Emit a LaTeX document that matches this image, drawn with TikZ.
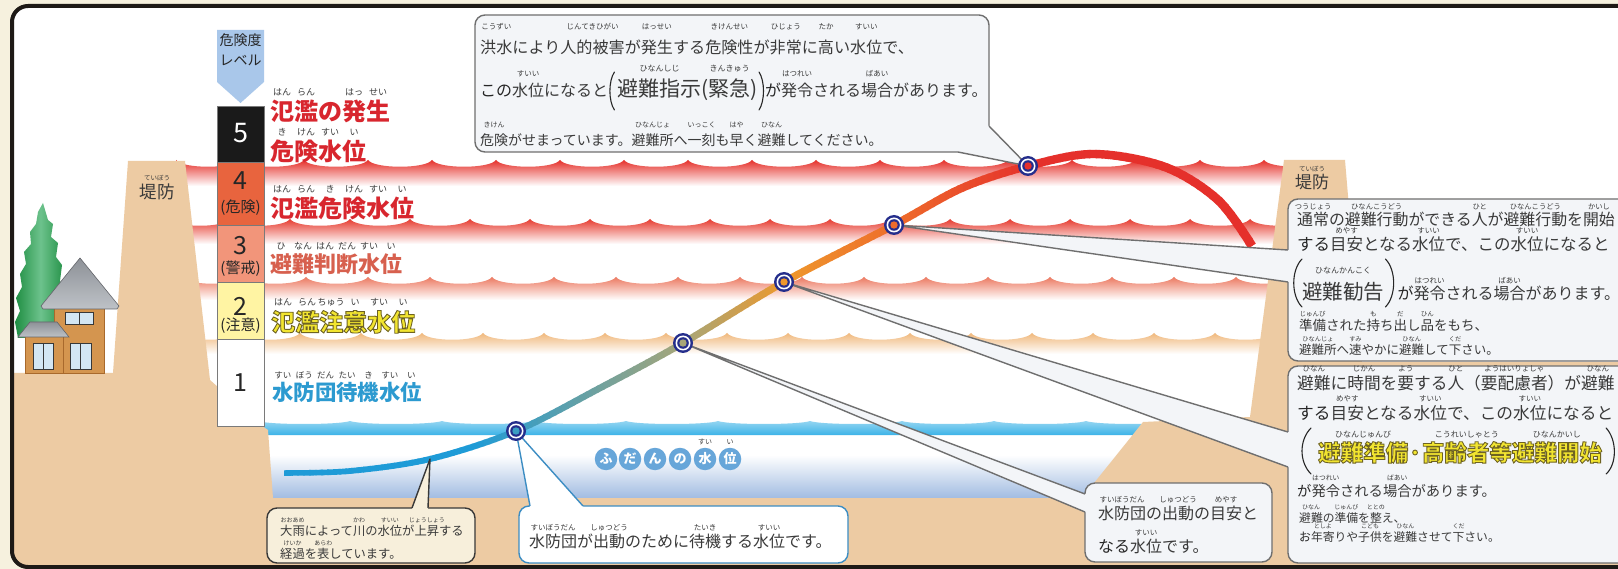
\documentclass[tikz,border=0pt]{standalone}
\usepackage{fontspec}
\setmainfont{Noto Sans CJK JP}
\newfontfamily\jp{Noto Sans CJK JP}
\usetikzlibrary{calc}

\definecolor{bgcream}{HTML}{F6F1DE}
\definecolor{framecol}{HTML}{1E1A16}
\definecolor{tan}{HTML}{EDCBA3}
\definecolor{bandA}{HTML}{E5302A}
\definecolor{bandB}{HTML}{E63C30}
\definecolor{bandC}{HTML}{EC7A62}
\definecolor{bandD}{HTML}{F0B87C}
\definecolor{waterband}{HTML}{3CB3E7}
\definecolor{waterdeep}{HTML}{9DB9E0}
\definecolor{lv5}{HTML}{1A1A1A}
\definecolor{lv4}{HTML}{E8643E}
\definecolor{lv3}{HTML}{F2957A}
\definecolor{lv2}{HTML}{FFF4A3}
\definecolor{lvarrow}{HTML}{A9C7EA}
\definecolor{lvline}{HTML}{7A7A7A}
\definecolor{lred}{HTML}{D8262E}
\definecolor{lsalmon}{HTML}{D7604E}
\definecolor{lyellow}{HTML}{F2E530}
\definecolor{lblue}{HTML}{2C9AD0}
\definecolor{navy}{HTML}{252E8C}
\definecolor{boxfill}{HTML}{F3F5F8}
\definecolor{boxline}{HTML}{6F6F6F}
\definecolor{creambox}{HTML}{F7EFDB}
\definecolor{darkline}{HTML}{383838}
\definecolor{blueline}{HTML}{3C8DC3}
\definecolor{txtcol}{HTML}{262626}
\definecolor{rubycol}{HTML}{3A3A3A}
\definecolor{alertred}{HTML}{E1432F}
\definecolor{wall}{HTML}{D4954F}
\definecolor{walldark}{HTML}{A8692C}
\definecolor{roofA}{HTML}{8D9197}
\definecolor{roofB}{HTML}{BEC2C7}
\definecolor{win}{HTML}{D3E6F3}
\definecolor{treeA}{HTML}{1E8E42}
\definecolor{treeB}{HTML}{6DC28C}
\definecolor{circ}{HTML}{67A6D9}
% colour stops of the water-level curve
\definecolor{c0}{HTML}{1E9BD7}
\definecolor{c1}{HTML}{A8A677}
\definecolor{c2}{HTML}{EE982C}
\definecolor{c3}{HTML}{EE6C2B}
\definecolor{c4}{HTML}{E5302B}

\newcommand\curvecolor[1]{%
 \ifdim#1pt<470pt \colorlet{cc}{c0}%
 \else\ifdim#1pt<683pt \pgfmathsetmacro\pp{(683-#1)/2.13}\colorlet{cc}{c0!\pp!c1}%
 \else\ifdim#1pt<784pt \pgfmathsetmacro\pp{(784-#1)/1.01}\colorlet{cc}{c1!\pp!c2}%
 \else\ifdim#1pt<894pt \pgfmathsetmacro\pp{(894-#1)/1.10}\colorlet{cc}{c2!\pp!c3}%
 \else\ifdim#1pt<1028pt \pgfmathsetmacro\pp{(1028-#1)/1.34}\colorlet{cc}{c3!\pp!c4}%
 \else \colorlet{cc}{c4}\fi\fi\fi\fi\fi}

% ruby (furigana) over a base text, base width kept
\newcommand\rbsz{7}
\newcommand\rbup{1.05em}
\newcommand\rb[2]{\leavevmode\setbox0=\hbox{#1}\setbox1=\hbox{\jp\mdseries\fontsize{\rbsz}{\rbsz}\selectfont\color{rubycol}#2}\hbox to\wd0{\rlap{\raise\rbup\hbox to\wd0{\hss\box1\hss}}\box0}}
\newcommand\fs[2]{\fontsize{#1}{#1}\selectfont\def\rbsz{#2}}
% heavy label letters, optionally outlined in a darker stroke
\newcommand\fc{lred}
\def\strokergb{}
\newcommand\lab[1]{{\color{\fc}\ifx\strokergb\empty#1\else\special{pdf:literal direct 2 Tr 0.9 w \strokergb\space RG}#1\special{pdf:literal direct 0 Tr}\fi}}
\newcommand\lr[2]{\rb{\lab{#1}}{#2}}

% scalloped band with colour fading downwards
\newcommand\band[6]{%
 \shade[top color=#1, middle color=#1!75!white, bottom color=white]
 (#4,#2+#3) -- (#4,#2)
 \foreach \k in {1,...,#5}{ .. controls ({#4+(\k-1)*#6+0.1*#6},{#2+9}) and ({#4+\k*#6-0.1*#6},{#2+9}) .. ({#4+\k*#6},#2) }
 -- ({#4+#5*#6},#2+#3) -- cycle;}

\def\curvepath{plot[smooth,tension=0.55] coordinates {(284,473) (350,471) (430,459) (516,431) (600,388) (683,343) (784,282) (894,225) (962,188) (1028,166) (1094,154) (1165,167) (1218,200) (1252,246)}}

\begin{document}
\begin{tikzpicture}[x=1pt,y=-1pt,
  txt/.style={inner sep=0pt, anchor=base west, text=txtcol},
  ctr/.style={inner sep=0pt, text=txtcol},
  lbl/.style={inner sep=0pt, anchor=base west},
  callbox/.style={fill=boxfill, draw=boxline, line width=1.4pt, rounded corners=10pt},
  callline/.style={draw=boxline, line width=1.4pt, line join=round},
  paren/.style={draw=txtcol, line width=1.1pt, line cap=round},
  lvbox/.style={draw=lvline, line width=0.8pt},
  fudan/.style={circle, fill=circ, text=white, minimum size=22.5pt, inner sep=0pt, font=\bfseries\fontsize{13}{13}\selectfont},
]
\useasboundingbox (0,0) rectangle (1618,569);
\clip (0,0) rectangle (1618,569);
\fill[bgcream] (0,0) rectangle (1618,569);
\fill[white, rounded corners=16pt] (12,6) rectangle (1700,567);

\begin{scope}
\clip[rounded corners=16pt] (12,6) rectangle (1700,567);

% danger bands
\band{bandA}{160}{26}{176}{18}{64}
\band{bandB}{219}{25}{170}{19}{60}
\band{bandC}{277}{23}{182}{18}{62}
\band{bandD}{333}{21}{178}{19}{61}

% river water
\shade[top color=white, bottom color=waterdeep] (255,455) rectangle (1160,500);
\shade[top color=waterband!55!white, bottom color=waterband] (258,435) -- (258,421)
 \foreach \k in {1,...,10}{ .. controls ({258+(\k-1)*92+11},{425}) and ({258+\k*92-11},{425}) .. ({258+\k*92},421) } -- (1178,435) -- cycle;

% ground and levees
\fill[tan] (1082,498) -- (1143,422) -- (1250,417) -- (1284,160) -- (1345,160) -- (1362,362) -- (1700,362) -- (1700,600) -- (0,600) -- (0,373) -- (113,373) -- (128,161) -- (185,161) -- (210,380) -- (262,426) -- (268,430) -- (273,498) -- cycle;

% tree
\shade[left color=treeA, right color=treeA, middle color=treeB] (43,203) -- (48,220) -- (53,224) -- (51,237) -- (58,243) -- (56,257) -- (62,265) -- (60,281) -- (65,291) -- (63,309) -- (66,320) -- (64,338) -- (18,338) -- (15,322) -- (20,311) -- (16,298) -- (22,287) -- (20,274) -- (26,264) -- (24,252) -- (31,244) -- (30,232) -- (36,224) -- (38,212) -- cycle;
% house
\fill[wall, draw=walldark, line width=0.6pt] (54,305) rectangle (104,373);
\shade[top color=roofA, bottom color=roofB, draw=roofA!70!black, line width=0.6pt] (80,258) -- (119,306) -- (117,309) -- (43,309) -- (41,306) -- cycle;
\fill[win, draw=darkline, line width=1pt] (65,313) rectangle (93,325);
\draw[darkline, line width=1pt] (79,313) -- (79,325);
\fill[wall, draw=walldark, line width=0.6pt] (25,336) rectangle (63,373);
\shade[top color=roofA, bottom color=roofB, draw=roofA!70!black, line width=0.6pt] (30,322) -- (57,322) -- (69,337) -- (18,337) -- cycle;
\fill[win, draw=darkline, line width=1pt] (33,344) rectangle (53,370);
\draw[darkline, line width=1pt] (43,344) -- (43,370);
\fill[win, draw=darkline, line width=1pt] (70,344) rectangle (91,370);
\draw[darkline, line width=1pt] (80.5,344) -- (80.5,370);

% levee labels
\node[ctr, font=\fs{17.5}{6.5}, anchor=base] (leveeL) at (157,199) {\rb{堤防}{ていぼう}};
\node[ctr, font=\fs{17}{6.5}, anchor=base] (leveeR) at (1312,189) {\rb{堤防}{ていぼう}};

% danger level column
\fill[lvarrow] (217,30) -- (264,30) -- (264,82) -- (240.5,103) -- (217,82) -- cycle;
\node[ctr, font=\fs{14}{6}] (lvt1) at (240.5,40) {危険度};
\node[ctr, font=\fs{14}{6}] (lvt2) at (240.5,60) {レベル};
\filldraw[lvbox, fill=lv5] (217,106) rectangle (264,162);
\filldraw[lvbox, fill=lv4] (217,162) rectangle (264,225);
\filldraw[lvbox, fill=lv3] (217,225) rectangle (264,282);
\filldraw[lvbox, fill=lv2] (217,282) rectangle (264,339);
\filldraw[lvbox, fill=white] (217,339) rectangle (264,426);
\node[ctr, text=white, font=\fs{27}{6}] (n5) at (240.5,133) {5};
\node[ctr, font=\fs{25}{6}] (n4) at (240.5,181) {4};
\node[ctr, font=\fs{15}{6}] (n4b) at (240.5,208) {(危険)};
\node[ctr, font=\fs{25}{6}] (n3) at (240.5,246) {3};
\node[ctr, font=\fs{15}{6}] (n3b) at (240.5,269) {(警戒)};
\node[ctr, font=\fs{25}{6}] (n2) at (240.5,306) {2};
\node[ctr, font=\fs{15}{6}] (n2b) at (240.5,326) {(注意)};
\node[ctr, font=\fs{25}{6}] (n1) at (240.5,383) {1};

% level names
\node[lbl, font=\bfseries\fs{24}{9}] (lab5a) at (270,121) {\lr{氾}{はん}\lr{濫}{らん}\lab{の}\lr{発}{はっ}\lr{生}{せい}};
\node[lbl, font=\bfseries\fs{24}{9}] (lab5b) at (270,161) {\lr{危}{き}\lr{険}{けん}\lr{水}{すい}\lr{位}{い}};
\node[lbl, font=\bfseries\fs{24}{9}] (lab4) at (270,218) {\lr{氾}{はん}\lr{濫}{らん}\lr{危}{き}\lr{険}{けん}\lr{水}{すい}\lr{位}{い}};
\node[lbl, font=\bfseries\fs{22}{9}\def\fc{lsalmon}] (lab3) at (270,273) {\lr{避}{ひ}\lr{難}{なん}\lr{判}{はん}\lr{断}{だん}\lr{水}{すい}\lr{位}{い}};
\node[lbl, font=\bfseries\fs{24}{9}\def\fc{lyellow}\def\strokergb{0.431 0.388 0.133}] (lab2) at (271,331) {\lr{氾}{はん}\lr{濫}{らん}\lr{注}{ちゅう}\lr{意}{い}\lr{水}{すい}\lr{位}{い}};
\node[lbl, font=\bfseries\fs{21.4}{8.5}\def\fc{lblue}] (lab1) at (272,401) {\lr{水}{すい}\lr{防}{ぼう}\lr{団}{だん}\lr{待}{たい}\lr{機}{き}\lr{水}{すい}\lr{位}{い}};

% usual water level
\node[fudan] (fd1) at (606,459) {ふ};
\node[fudan] (fd2) at (630,459) {だ};
\node[fudan] (fd3) at (655,459) {ん};
\node[fudan] (fd4) at (680,459) {の};
\node[fudan] (fd5) at (705,459) {水};
\node[fudan] (fd6) at (730,459) {位};
\node[ctr, text=rubycol, font=\fs{7}{7}, anchor=base] (fdr1) at (705,444) {すい};
\node[ctr, text=rubycol, font=\fs{7}{7}, anchor=base] (fdr2) at (730,444) {い};

% water-level curve, coloured along its length and thickening towards the peak
\foreach \x in {280,286,...,1256}{%
  \curvecolor{\x}%
  \pgfmathsetmacro\lw{5.5+(\x-280)/280}%
  \begin{scope}
    \clip (\x-0.6,100) rectangle (\x+6.6,500);
    \draw[cc, line width=\lw pt] \curvepath;
  \end{scope}}

\coordinate (m1) at (516,431);
\coordinate (m2) at (683,343);
\coordinate (m3) at (784,282);
\coordinate (m4) at (894,225);
\coordinate (m5) at (1028,166);
\coordinate (c6) at (430,459);

% callout: level 5
\draw[callbox] (475,15) rectangle (989,152);
\coordinate (t5a) at (958,152);
\coordinate (t5b) at (989,126);
\fill[boxfill] (m5) -- (958,152.8) -- (958,148) -- (985,148) -- (985,126) -- (989.8,126) -- cycle;
\draw[callline] (t5a) -- (m5) -- (t5b);
\node[txt, font=\fs{16.1}{7.5}\def\rbup{1.5em}] (tb1) at (480,54) {\rb{洪水}{こうずい}により\rb{人的被害}{じんてきひがい}が\rb{発生}{はっせい}する\rb{危険性}{きけんせい}が\rb{非常}{ひじょう}に\rb{高}{たか}い\rb{水位}{すいい}で、};
\node[txt, font=\fs{16}{7.5}\def\rbup{1.25em}] (tb2a) at (480,97) {この\rb{水位}{すいい}になると};
\node[txt, font=\fs{21}{8}\def\rbup{1.2em}, text=alertred] (tb2b) at ($(tb2a.base east)+(9,0)$) {\rb{避難指示}{ひなんしじ}(\rb{緊急}{きんきゅう})};
\node[txt, font=\fs{16}{7.5}\def\rbup{1.25em}] (tb2c) at ($(tb2b.base east)+(7,0)$) {が\rb{発令}{はつれい}される\rb{場合}{ばあい}があります。};
\draw[paren] ($(tb2a.base east)+(6,-25)$) .. controls +(-6,9) and +(-6,-9) .. ($(tb2a.base east)+(6,13)$);
\draw[paren] ($(tb2b.base east)+(1,-25)$) .. controls +(6,9) and +(6,-9) .. ($(tb2b.base east)+(1,13)$);
\node[txt, font=\fs{14}{7}\def\rbup{1.3em}] (tb3) at (480,146) {\rb{危険}{きけん}がせまっています。\rb{避難所}{ひなんじょ}へ\rb{一刻}{いっこく}も\rb{早}{はや}く\rb{避難}{ひなん}してください。};

% callout: level 4
\draw[callbox] (1288,199) rectangle (1700,361);
\coordinate (t4a) at (1288,250);
\coordinate (t4b) at (1288,282);
\fill[boxfill] (m4) -- (1288,250) -- (1292,250) -- (1292,282) -- (1288,282) -- cycle;
\draw[callline] (t4a) -- (m4) -- (t4b);
\node[txt, font=\fs{15.9}{7.3}] (ta1) at (1297,226) {\rb{通常}{つうじょう}の\rb{避難行動}{ひなんこうどう}ができる\rb{人}{ひと}が\rb{避難行動}{ひなんこうどう}を\rb{開始}{かいし}};
\node[txt, font=\fs{16.5}{7.5}] (ta2) at (1297,251) {する\rb{目安}{めやす}となる\rb{水位}{すいい}で、この\rb{水位}{すいい}になると};
\node[txt, font=\fs{20.5}{8}\def\rbup{1.3em}, text=alertred] (ta3a) at (1302,300) {\rb{避難勧告}{ひなんかんこく}};
\node[txt, font=\fs{16}{7.5}] (ta3b) at ($(ta3a.base east)+(13,0)$) {が\rb{発令}{はつれい}される\rb{場合}{ばあい}があります。};
\draw[paren] (1302,259) .. controls (1291,270) and (1291,296) .. (1302,307);
\draw[paren] ($(ta3a.base east)+(1,-41)$) .. controls +(11,11) and +(11,-11) .. ($(ta3a.base east)+(1,7)$);
\node[txt, font=\fs{13.5}{6.5}] (ta4) at (1299,331) {\rb{準備}{じゅんび}された\rb{持}{も}ち\rb{出}{だ}し\rb{品}{ひん}をもち、};
\node[txt, font=\fs{12.5}{6.2}] (ta5) at (1299,355) {\rb{避難所}{ひなんじょ}へ\rb{速}{すみ}やかに\rb{避難}{ひなん}して\rb{下}{くだ}さい。};

% callout: level 3
\draw[callbox] (1288,366) rectangle (1700,563);
\coordinate (t3a) at (1288,432);
\coordinate (t3b) at (1288,467);
\fill[boxfill] (m3) -- (1288,432) -- (1292,432) -- (1292,467) -- (1288,467) -- cycle;
\draw[callline] (t3a) -- (m3) -- (t3b);
\node[txt, font=\fs{16.7}{7.5}] (tc1) at (1297,389) {\rb{避難}{ひなん}に\rb{時間}{じかん}を\rb{要}{よう}する\rb{人}{ひと}（\rb{要配慮者}{ようはいりょしゃ}）が\rb{避難}{ひなん}};
\node[txt, font=\fs{16.7}{7.5}] (tc2) at (1297,419) {する\rb{目安}{めやす}となる\rb{水位}{すいい}で、この\rb{水位}{すいい}になると};
\node[lbl, font=\bfseries\fs{22.5}{8}\def\rbup{1.05em}\def\fc{lyellow}\def\strokergb{0.431 0.388 0.133}] (tc3) at (1318,461) {\lr{避難準備}{ひなんじゅんび}\lab{·}\lr{高齢者等}{こうれいしゃとう}\lr{避難開始}{ひなんかいし}};
\draw[paren] (1311,428) .. controls (1299,440) and (1299,462) .. (1311,474);
\draw[paren] ($(tc3.base east)+(4,-33)$) .. controls +(11,12) and +(11,-10) .. ($(tc3.base east)+(4,13)$);
\node[txt, font=\fs{14.3}{6.8}] (tc4) at (1297,496) {が\rb{発令}{はつれい}される\rb{場合}{ばあい}があります。};
\node[txt, font=\fs{11.8}{6}] (tc5) at (1299,522) {\rb{避難}{ひなん}の\rb{準備}{じゅんび}を\rb{整}{ととの}え、};
\node[txt, font=\fs{11.8}{6}] (tc6) at (1299,541) {お\rb{年寄}{としよ}りや\rb{子供}{こども}を\rb{避難}{ひなん}させて\rb{下}{くだ}さい。};

% callout: level 2
\draw[callbox] (1085,483) rectangle (1272,562);
\coordinate (t2a) at (1085,494);
\coordinate (t2b) at (1085,512);
\fill[boxfill] (m2) -- (1085,494) -- (1089,494) -- (1089,512) -- (1085,512) -- cycle;
\draw[callline] (t2a) -- (m2) -- (t2b);
\node[txt, font=\fs{16}{7.5}] (td1) at (1098,519) {\rb{水防団}{すいぼうだん}の\rb{出動}{しゅつどう}の\rb{目安}{めやす}と};
\node[txt, font=\fs{16}{7.5}] (td2) at (1098,552) {なる\rb{水位}{すいい}です。};

% callout: level 1
\draw[callbox, fill=white, draw=blueline] (519,506) rectangle (848,563);
\coordinate (t1a) at (530,506);
\coordinate (t1b) at (583,506);
\fill[white] (m1) -- (530,506) -- (530,510) -- (583,510) -- (583,506) -- cycle;
\draw[callline, draw=blueline] (t1a) -- (m1) -- (t1b);
\node[txt, font=\fs{16}{7.5}] (te1) at (529,547) {\rb{水防団}{すいぼうだん}が\rb{出動}{しゅつどう}のために\rb{待機}{たいき}する\rb{水位}{すいい}です。};

% callout: the curve
\draw[callbox, fill=creambox, draw=darkline] (267,508) rectangle (475,563);
\coordinate (t0a) at (412,508);
\coordinate (t0b) at (428,508);
\fill[creambox] (c6) -- (412,508) -- (412,512) -- (428,512) -- (428,508) -- cycle;
\draw[callline, draw=darkline] (t0a) -- (c6) -- (t0b);
\node[txt, font=\fs{12.3}{6}] (tf1) at (280,535) {\rb{大雨}{おおあめ}によって\rb{川}{かわ}の\rb{水位}{すいい}が\rb{上昇}{じょうしょう}する};
\node[txt, font=\fs{12.3}{6}] (tf2) at (280,558) {\rb{経過}{けいか}を\rb{表}{あらわ}しています。};

% markers on the curve
\foreach \n/\mx in {m1/516,m2/683,m3/784,m4/894,m5/1028}{%
  \curvecolor{\mx}%
  \fill[navy] (\n) circle[radius=10pt];
  \fill[white] (\n) circle[radius=7.5pt];
  \fill[navy] (\n) circle[radius=5.8pt];
  \fill[cc] (\n) circle[radius=3.7pt];}
\end{scope}

% outer frame
\draw[framecol, line width=4pt, rounded corners=16pt] (12,6) rectangle (1700,567);
\end{tikzpicture}
\end{document}
